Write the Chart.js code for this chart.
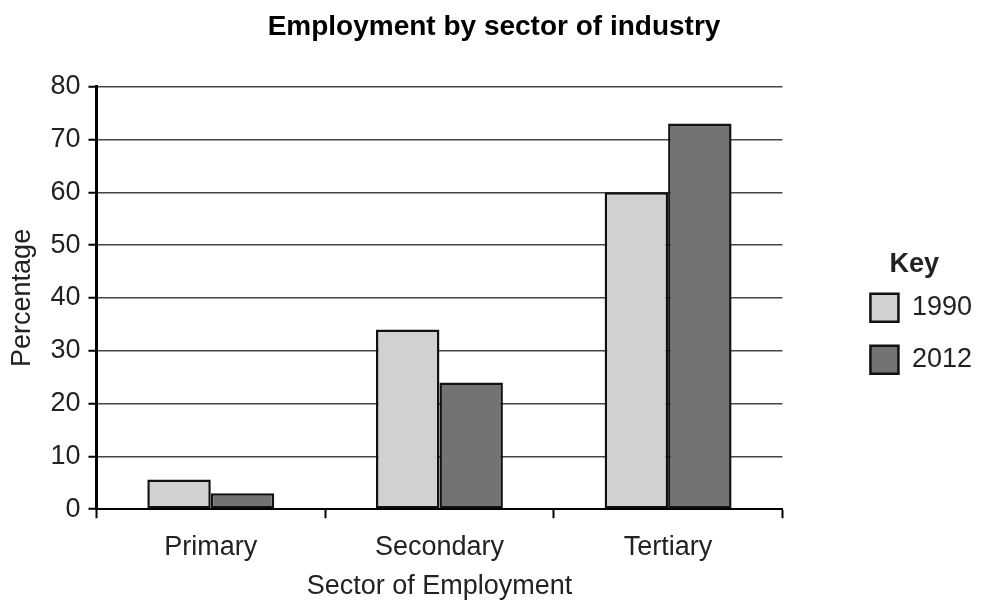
<!DOCTYPE html>
<html>
<head>
<meta charset="utf-8">
<script src="https://cdn.jsdelivr.net/npm/chart.js@4/dist/chart.umd.min.js"></script>
<style>
  html, body { margin: 0; padding: 0; background: #fff; }
  #wrap { width: 982px; height: 607px; }
</style>
</head>
<body>
<div id="wrap"><canvas id="c"></canvas></div>
<script>
const categories = ["Primary", "Secondary", "Tertiary"];
const series1990 = [5.6, 34, 60];
const series2012 = [3, 24, 73];
const seriesNames = ["1990", "2012"];

const FONT = "'Liberation Sans', Arial, Helvetica, sans-serif";
const TXT = "#222";

new Chart(document.getElementById('c'), {
  type: 'bar',
  data: {
    labels: categories,
    datasets: [
      { label: seriesNames[0], data: series1990, backgroundColor: '#d1d1d1', borderColor: '#111', borderWidth: 2.5, borderSkipped: false, categoryPercentage: 0.555, barPercentage: 1 },
      { label: seriesNames[1], data: series2012, backgroundColor: '#737373', borderColor: '#111', borderWidth: 2.5, borderSkipped: false, categoryPercentage: 0.555, barPercentage: 1 }
    ]
  },
  options: {
    responsive: true,
    maintainAspectRatio: false,
    animation: false,
    layout: { padding: { top: 8, left: 6, right: 0, bottom: 4 } },
    plugins: {
      title: {
        display: true,
        text: 'Employment by sector of industry',
        color: '#000',
        font: { family: FONT, size: 28, weight: 'bold' },
        padding: { top: 2, bottom: 43 }
      },
      legend: {
        display: true,
        position: 'right',
        align: 'center',
        title: {
          display: true,
          text: 'Key',
          color: TXT,
          font: { family: FONT, size: 27, weight: 'bold' },
          padding: { top: 38, bottom: -14 }
        },
        labels: {
          color: TXT,
          font: { family: FONT, size: 27 },
          boxWidth: 28,
          boxHeight: 28,
          padding: 24
        }
      },
      tooltip: { enabled: false }
    },
    scales: {
      x: {
        offset: true,
        grid: {
          display: true,
          offset: true,
          drawOnChartArea: false,
          drawTicks: true,
          tickLength: 9,
          tickColor: '#000',
          tickWidth: 2
        },
        border: { display: true, color: '#000', width: 2 },
        ticks: { color: TXT, font: { family: FONT, size: 27 }, padding: 13 },
        title: { display: true, text: 'Sector of Employment', color: TXT, font: { family: FONT, size: 27 }, padding: { top: -6, bottom: 0 } }
      },
      y: {
        min: 0,
        max: 80,
        ticks: { stepSize: 10, color: TXT, font: { family: FONT, size: 27 }, padding: 8 },
        grid: {
          color: '#444',
          lineWidth: 1.5,
          drawTicks: true,
          tickLength: 8,
          tickColor: '#000',
          tickWidth: 2
        },
        border: { display: true, color: '#000', width: 3 },
        title: { display: true, text: 'Percentage', color: TXT, font: { family: FONT, size: 27 }, padding: { top: 0, bottom: 4 } }
      },
      gap: {
        type: 'linear',
        position: 'right',
        display: true,
        grid: { display: false, drawOnChartArea: false, drawTicks: false },
        border: { display: false },
        ticks: { display: false },
        afterFit: function (s) { s.width = 64; }
      }
    }
  }
});
</script>
</body>
</html>
